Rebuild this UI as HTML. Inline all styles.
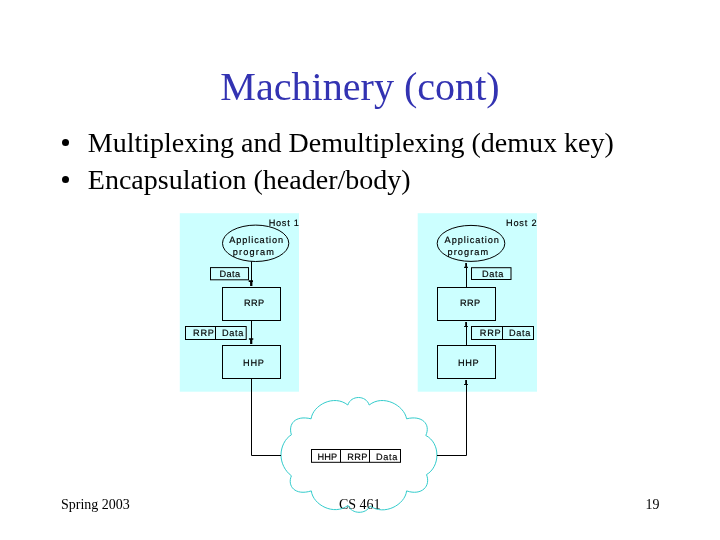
<!DOCTYPE html>
<html>
<head>
<meta charset="utf-8">
<title>Machinery (cont)</title>
<style>
html,body{margin:0;padding:0;background:#fff;}
body{width:720px;height:540px;position:relative;overflow:hidden;will-change:transform;font-family:"Liberation Serif",serif;color:#000;}
.t{position:absolute;white-space:nowrap;line-height:1;}
#title{left:0px;width:720px;text-align:center;top:67px;font-size:40.1px;color:#3333b2;}
.b{font-size:28.02px;}
.f{font-size:14px;}
.dot{position:absolute;width:7.2px;height:7.2px;border-radius:50%;background:#000;}
svg{position:absolute;left:0;top:0;}
svg text{font-family:"Liberation Sans",sans-serif;font-size:9.2px;fill:#000;stroke:#000;stroke-width:0.16px;text-rendering:geometricPrecision;}
</style>
</head>
<body>
<div id="title" class="t">Machinery (cont)</div>
<div class="dot" style="left:62px;top:139px;"></div>
<div class="t b" style="left:87.8px;top:128.6px;">Multiplexing and Demultiplexing (demux key)</div>
<div class="dot" style="left:62px;top:175.7px;"></div>
<div class="t b" style="left:87.8px;top:165.9px;">Encapsulation (header/body)</div>

<div class="t f" style="left:61px;top:497.6px;">Spring 2003</div>
<div class="t f" style="left:339px;top:497.6px;">CS 461</div>
<div class="t f" style="left:645.4px;top:497.6px;">19</div>

<svg width="720" height="540" viewBox="0 0 720 540">
  <!-- host backgrounds -->
  <rect x="179.8" y="213.2" width="119.2" height="178.5" fill="#ccffff"/>
  <rect x="417.7" y="213.2" width="119.3" height="178.5" fill="#ccffff"/>

  <!-- cloud -->
  <path id="cloud" fill="none" stroke="#33cccc" stroke-width="1" stroke-linejoin="miter" d="
    M281,455
    C281,447 285,438.5 291.4,434.8
    C288,424 295,415 311.1,418.8
    C313,405 334,394 347.8,405
    C351,395 366,395 369.2,405
    C383,394 404,405 406.6,418.8
    C422,415 431,424 425.8,435.5
    C433,439 437,447 436.9,455
    C437,463 433,471 426.5,474.6
    C431,486 422,496 406.6,490.9
    C405,505 384,516 370.1,506
    C366,514.5 352,514.5 348,505.4
    C334,516 313,505 311.3,490.9
    C295,496 287,486 291.4,475.8
    C285,471 281,463 281,455 Z"/>

  <g fill="none" stroke="#000" stroke-width="1">
    <!-- host 1 -->
    <ellipse cx="255.65" cy="243.3" rx="33.15" ry="18.2"/>
    <rect x="210.5" y="267.6" width="38" height="12.2"/>
    <rect x="222.5" y="287.5" width="58" height="33"/>
    <rect x="185.5" y="326.5" width="60.7" height="13"/>
    <line x1="215.5" y1="326.5" x2="215.5" y2="339.5"/>
    <rect x="222.5" y="345.5" width="58" height="33"/>
    <line x1="251.5" y1="261.3" x2="251.5" y2="285"/>
    <line x1="251.5" y1="321" x2="251.5" y2="343"/>
    <polyline points="251.5,379 251.5,455.5 281,455.5"/>
    <!-- host 2 -->
    <ellipse cx="471" cy="243.4" rx="33.8" ry="18"/>
    <rect x="471.5" y="267.7" width="39.5" height="11.8"/>
    <rect x="437.5" y="287.5" width="58" height="33"/>
    <rect x="471.5" y="326.5" width="62" height="13"/>
    <line x1="502.5" y1="326.5" x2="502.5" y2="339.5"/>
    <rect x="437.5" y="345.5" width="58" height="33"/>
    <line x1="466.5" y1="263.5" x2="466.5" y2="287.5"/>
    <line x1="466.5" y1="322.5" x2="466.5" y2="345.5"/>
    <polyline points="437,455.5 466.5,455.5 466.5,380.5"/>
    <!-- packet in cloud -->
    <rect x="311.5" y="449.5" width="89" height="12.8"/>
    <line x1="340.5" y1="449.5" x2="340.5" y2="462.3"/>
    <line x1="369.5" y1="449.5" x2="369.5" y2="462.3"/>
  </g>
  <!-- arrowheads -->
  <g fill="#000" stroke="none">
    <path d="M248.7,280.2 H253 V282.1 H252.4 V286 H250.1 V282.1 H248.7 Z"/>
    <path d="M248.9,338.3 H253.3 V339.8 H252.3 V344 H250.1 V339.8 H248.9 Z"/>
    <path d="M465.2,263 H466.9 V266.7 H467.9 V267.9 H464.1 V266.7 H465.2 Z"/>
    <path d="M465.2,322.1 H466.9 V325.9 H467.9 V326.9 H464.1 V325.9 H465.2 Z"/>
    <path d="M465.2,380.1 H466.9 V383.9 H467.9 V384.9 H464.1 V383.9 H465.2 Z"/>
  </g>

  <!-- labels -->
  <text x="268.67" y="225.8" textLength="30.17">Host 1</text>
  <text x="229.18" y="242.9" textLength="53.99">Application</text>
  <text x="232.71" y="254.6" textLength="41.14">program</text>
  <text x="219.5" y="277.0" textLength="20.71">Data</text>
  <text x="244.03" y="305.9" textLength="20.18">RRP</text>
  <text x="193.03" y="335.8" textLength="20.85">RRP</text>
  <text x="222.06" y="335.8" textLength="21.37">Data</text>
  <text x="243.05" y="365.7" textLength="20.87">HHP</text>
  <text x="505.98" y="225.6" textLength="30.64">Host 2</text>
  <text x="444.6" y="242.9" textLength="54.19">Application</text>
  <text x="447.44" y="254.6" textLength="40.78">program</text>
  <text x="482.06" y="276.6" textLength="21.37">Data</text>
  <text x="460.05" y="305.8" textLength="20.1">RRP</text>
  <text x="479.83" y="335.8" textLength="20.93">RRP</text>
  <text x="509.04" y="335.8" textLength="21.23">Data</text>
  <text x="458.01" y="365.7" textLength="20.65">HHP</text>
  <text x="317.39" y="459.6" textLength="19.77">HHP</text>
  <text x="347.25" y="459.6" textLength="20.24">RRP</text>
  <text x="376.04" y="459.6" textLength="21.23">Data</text>
</svg>

</body>
</html>
